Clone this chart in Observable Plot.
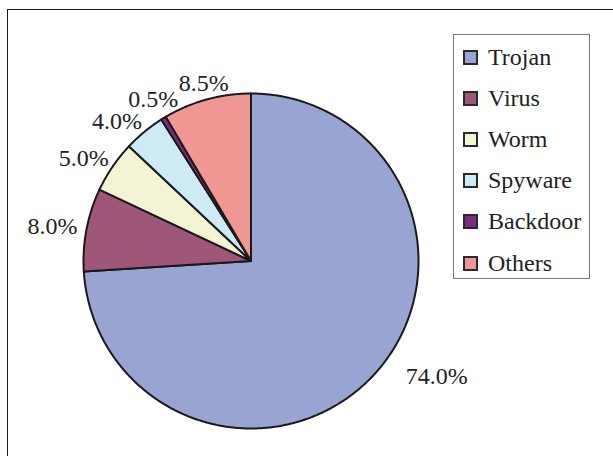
<!DOCTYPE html>
<html>
<head>
<meta charset="utf-8">
<script src="https://cdn.jsdelivr.net/npm/d3@7"></script>
<script src="https://cdn.jsdelivr.net/npm/@observablehq/plot@0.6"></script>
<style>
  html, body { margin: 0; padding: 0; background: #fff; overflow: hidden; }
  #wrap { position: relative; width: 613px; height: 456px; overflow: hidden; }
  #wrap svg { position: absolute; left: 0; top: 0; }
  #frame { position: absolute; left: 7px; top: 9px; width: 640px; height: 480px; border: 1.6px solid #1c1c1c; box-sizing: border-box; }
  #legend { position: absolute; left: 453px; top: 34px; width: 137px; height: 245px; border: 1.3px solid #7a7a7a; box-sizing: border-box; background: #fff; font-family: "Liberation Serif", "Times New Roman", serif; font-size: 24px; color: #222; }
  .item { position: absolute; left: 9px; height: 24px; display: flex; align-items: center; }
  .sw { width: 11px; height: 11px; border: 2px solid #2a2a2a; margin-right: 10px; }
</style>
</head>
<body>
<div id="wrap">
  <div id="frame"></div>
  <div id="legend"></div>
</div>
<script>
// ---- data ----
const categories = ["Trojan", "Virus", "Worm", "Spyware", "Backdoor", "Others"];
const shares = [74.0, 8.0, 5.0, 4.0, 0.5, 8.5];
const labels = ["74.0%", "8.0%", "5.0%", "4.0%", "0.5%", "8.5%"];

// ---- style ----
const colors = ["#99a4d3", "#a05679", "#f3f3d5", "#cdeaf5", "#7b2d80", "#f09794"];
// label nudges (px) applied after outside-end placement, like a manual label adjust
const labelNudge = [[34, -12], [0, 0], [0, 1.5], [-5, 3.5], [8, -3], [6, 1.5]];

const R_PX = 167.5;            // radius in pixels
const fontSize = 24;

const arcs = d3.pie().sort(null).value(d => d)(shares);

// build polygon points in unit-circle coordinates (y up)
const pts = [];
arcs.forEach((a, i) => {
  const name = categories[i];
  pts.push({name, x: 0, y: 0});
  const n = Math.max(2, Math.ceil((a.endAngle - a.startAngle) / (Math.PI / 360)));
  for (let k = 0; k <= n; k++) {
    const t = a.startAngle + (a.endAngle - a.startAngle) * k / n;
    pts.push({name, x: Math.sin(t), y: Math.cos(t)});
  }
  pts.push({name, x: 0, y: 0});
});

// label positions: outside end, box touching a circle slightly larger than pie
const lab = arcs.map((a, i) => {
  const m = (a.startAngle + a.endAngle) / 2;
  const s = Math.sin(m), c = Math.cos(m);
  const w = labels[i].length * fontSize * 0.5 + 0.35 * fontSize; // approx width
  const h = fontSize;
  const rl = 174 / R_PX;
  const xPx = rl * s * R_PX + (w / 2) * s + labelNudge[i][0];
  const yPxUp = rl * c * R_PX + (h / 2) * c - labelNudge[i][1];
  return {label: labels[i], x: xPx / R_PX, y: yPxUp / R_PX};
});

const chart = Plot.plot({
  width: 613,
  height: 456,
  margin: 0,
  x: {domain: [-1, 1], range: [250.5 - R_PX, 250.5 + R_PX], axis: null},
  y: {domain: [-1, 1], range: [260.5 + R_PX, 260.5 - R_PX], axis: null},
  color: {domain: categories, range: colors},
  style: {background: "transparent", overflow: "visible"},
  marks: [
    Plot.line(pts, {x: "x", y: "y", z: "name", fill: "name", stroke: "#1a1a1a", strokeWidth: 2, strokeLinejoin: "round", curve: "linear"}),
    Plot.text(lab, {x: "x", y: "y", text: "label", fontSize: fontSize, fontFamily: "'Liberation Serif', 'Times New Roman', serif", fill: "#222", textAnchor: "middle", lineAnchor: "middle"})
  ]
});
document.getElementById("wrap").appendChild(chart);

// legend
const legend = document.getElementById("legend");
categories.forEach((c, i) => {
  const it = document.createElement("div");
  it.className = "item";
  it.style.top = (23.5 - 12 + i * 41.1 - 1) + "px";
  const sw = document.createElement("div");
  sw.className = "sw";
  sw.style.background = colors[i];
  const tx = document.createElement("span");
  tx.textContent = c;
  it.appendChild(sw);
  it.appendChild(tx);
  legend.appendChild(it);
});
</script>
</body>
</html>
